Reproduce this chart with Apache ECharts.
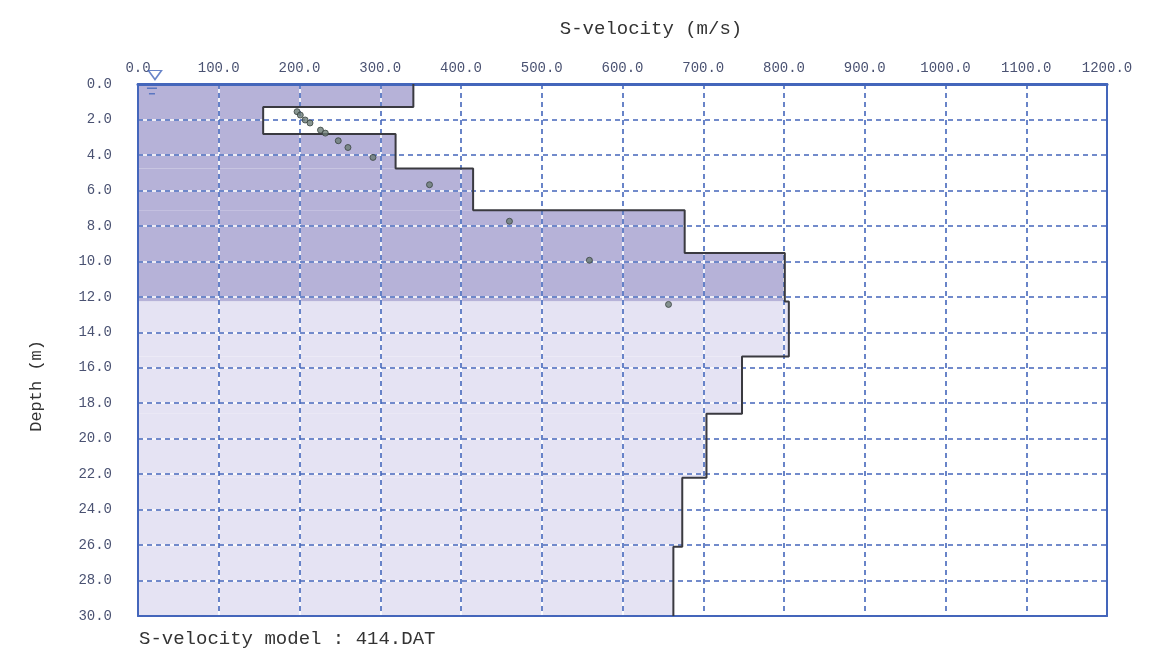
<!DOCTYPE html>
<html>
<head>
<meta charset="utf-8">
<script src="https://cdn.jsdelivr.net/npm/echarts@6/dist/echarts.min.js"></script>
<style>html,body{margin:0;padding:0;background:#fff;}#c{width:1162px;height:653px;}</style>
</head>
<body>
<div id="c"></div>
<script>
// ---- data ----
const layerTop = [0, 1.3, 2.82, 4.77, 7.12, 9.53, 12.26, 15.37, 18.59, 22.2, 26.1];
const layerBottom = [1.3, 2.82, 4.77, 7.12, 9.53, 12.26, 15.37, 18.59, 22.2, 26.1, 30.0];
const layerVs = [341, 155, 319, 415, 677, 801, 806, 748, 704, 674, 663];
const resolvedDepth = 12.26; // darker shading above this depth
const obsVelocity = [197, 201, 207, 213, 226, 232, 248, 260, 291, 361, 460, 559, 657];
const obsDepth = [1.56, 1.75, 2.03, 2.2, 2.6, 2.77, 3.2, 3.58, 4.14, 5.68, 7.74, 9.94, 12.43];
const waterLevel = [[21, 0]];
const xTicks = {min: 0, max: 1200, step: 100};
const yTicks = {min: 0, max: 30, step: 2};

// ---- build ----
const layerData = layerVs.map((v, i) => [v, layerTop[i], layerBottom[i]]);
const profile = [];
layerVs.forEach((v, i) => { profile.push([v, layerTop[i]]); profile.push([v, layerBottom[i]]); });
const obs = obsVelocity.map((v, i) => [v, obsDepth[i]]);

const mono = '"Liberation Mono", "DejaVu Sans Mono", monospace';
const labelColor = '#4a5272';
const blue = '#4466bb';

const chart = echarts.init(document.getElementById('c'));
chart.setOption({
  backgroundColor: '#ffffff',
  animation: false,
  grid: {left: 138, top: 84, width: 969, height: 532},
  title: [
    {text: 'S-velocity (m/s)', left: 646, top: 14, textAlign: 'center',
     textStyle: {fontFamily: mono, fontSize: 19, fontWeight: 'normal', color: '#333'}},
    {text: 'S-velocity model : 414.DAT', left: 134, top: 624,
     textStyle: {fontFamily: mono, fontSize: 19, fontWeight: 'normal', color: '#333'}}
  ],
  graphic: [
    {type: 'text', left: 28, top: 340, rotation: Math.PI / 2,
     style: {text: 'Depth (m)', font: '17px ' + mono, fill: '#333'}}
  ],
  xAxis: [
    {type: 'value', position: 'top', min: xTicks.min, max: xTicks.max, interval: xTicks.step, z: 4,
     axisLine: {show: true, lineStyle: {color: blue, width: 3}},
     axisTick: {show: false},
     axisLabel: {fontFamily: mono, fontSize: 14, color: labelColor, margin: 9,
                 formatter: v => v.toFixed(1)},
     splitLine: {show: true, lineStyle: {color: blue, width: 1.6, type: [5, 4]}}},
    {type: 'value', position: 'bottom', min: xTicks.min, max: xTicks.max, interval: xTicks.step, z: 3,
     axisLine: {show: true, onZero: false, lineStyle: {color: blue, width: 2}},
     axisTick: {show: false}, axisLabel: {show: false},
     splitLine: {show: true, lineStyle: {color: '#ffffff', width: 1.6}}}
  ],
  yAxis: [
    {type: 'value', inverse: true, min: yTicks.min, max: yTicks.max, interval: yTicks.step, z: 4,
     axisLine: {show: true, onZero: false, lineStyle: {color: blue, width: 2}},
     axisTick: {show: false},
     axisLabel: {fontFamily: mono, fontSize: 14, color: labelColor, margin: 26,
                 formatter: v => v.toFixed(1)},
     splitLine: {show: true, lineStyle: {color: blue, width: 1.6, type: [5, 4]}}},
    {type: 'value', position: 'right', inverse: true, min: yTicks.min, max: yTicks.max, interval: yTicks.step, z: 3,
     axisLine: {show: true, onZero: false, lineStyle: {color: blue, width: 2}},
     axisTick: {show: false}, axisLabel: {show: false},
     splitLine: {show: true, lineStyle: {color: '#ffffff', width: 1.6}}}
  ],
  series: [
    {type: 'custom', xAxisIndex: 0, yAxisIndex: 0, z: 1, silent: true,
     data: layerData,
     renderItem: function (params, api) {
       const top = api.value(1), bottom = api.value(2);
       const p0 = api.coord([0, top]);
       const p1 = api.coord([api.value(0), bottom]);
       const dark = top < resolvedDepth;
       return {type: 'rect',
               shape: {x: p0[0], y: p0[1], width: p1[0] - p0[0], height: p1[1] - p0[1]},
               style: {fill: dark ? '#b6b2d8' : '#e5e3f3'}};
     }},
    {type: 'line', xAxisIndex: 0, yAxisIndex: 0, z: 6, data: profile,
     showSymbol: false, lineStyle: {color: '#3a3a40', width: 2}},
    {type: 'scatter', xAxisIndex: 0, yAxisIndex: 0, z: 7, data: obs,
     symbol: 'circle', symbolSize: 6,
     itemStyle: {color: '#6b7c76', borderColor: '#3a4440', borderWidth: 1}},
    {type: 'scatter', xAxisIndex: 0, yAxisIndex: 0, z: 8, data: waterLevel,
     symbol: 'triangle', symbolRotate: 180, symbolSize: [13, 9], symbolOffset: [0, -9],
     itemStyle: {color: '#ffffff', borderColor: blue, borderWidth: 1.5}},
    {type: 'scatter', xAxisIndex: 0, yAxisIndex: 0, z: 8, data: waterLevel,
     symbol: 'path://M0,0H10V1.5H0Z M2,5H8V6.5H2Z', symbolSize: [10, 7], symbolOffset: [-3, 7],
     itemStyle: {color: blue}}
  ]
});
</script>
</body>
</html>
